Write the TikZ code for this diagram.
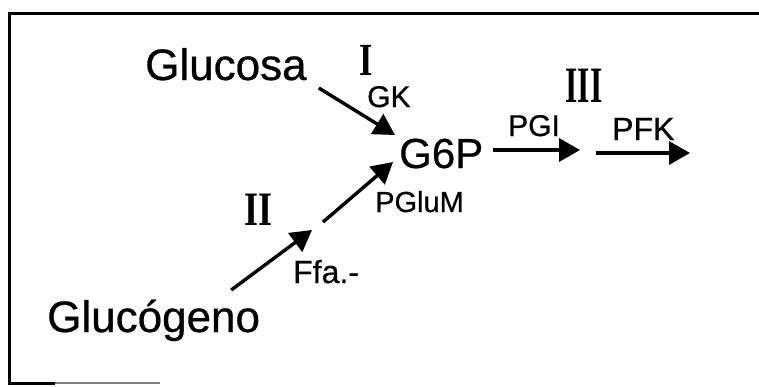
\documentclass[tikz,border=0pt]{standalone}
\usepackage{fontspec}
\setmainfont{Liberation Sans}
\newfontfamily\lblfont{Liberation Sans}[FakeBold=0.6]
\newfontfamily\romfont{Liberation Serif}
\usetikzlibrary{arrows.meta}
\tikzset{
  lbl/.style={inner sep=0pt, anchor=base west, font=\lblfont\fontsize{#1}{#1}\selectfont},
  num/.style={inner sep=0pt, anchor=base, font=\romfont\bfseries\fontsize{#1}{#1}\selectfont},
  arr/.style={-{Triangle[length=21pt,width=23pt]}, line width=3.4pt},
  frame/.style={line width=3pt}
}
\begin{document}
\begin{tikzpicture}[x=1pt,y=-1pt]
\useasboundingbox (0,0) rectangle (759,386);
% frame
\draw[frame] (8,13) -- (759,13);
\draw[frame] (9,13) -- (9,383) -- (55,383);
\draw[line width=1.6pt, gray] (55,383) -- (160,383);
% nodes
\node[lbl=44] (glucosa) at (145,80) {Glucosa};
\node[lbl=44] (glucogeno) at (47,332) {Glucógeno};
\node[lbl=42] (g6p) at (399,168) {G6P};
\node[lbl=30] (gk) at (367,107) {GK};
\node[lbl=29] (pglum) at (375,212) {PGluM};
\node[lbl=32] (ffa) at (293,283) {Ffa.-};
\node[lbl=30] (pgi) at (508,136) {PGI};
\node[lbl=32] (pfk) at (612,140) {PFK};
\node[num=46] (n1) at (366,75) {\scalebox{0.75}[1]{I}};
\node[num=48] (n2) at (259,225) {\scalebox{0.75}[1]{II}};
\node[num=51] (n3) at (584,102) {\scalebox{0.62}[1]{III}};
% free ends
\coordinate (m2) at (317.5,226);
\coordinate (m3) at (580,150);
\coordinate (m4) at (596,153);
\coordinate (e4) at (690,153);
% connectors
\draw[arr] ([shift={(12,8)}]glucosa.base east) -- ([shift={(-4,-33)}]g6p.base west);
\draw[arr] ([shift={(-29,-42)}]glucogeno.base east) -- ([shift={(-5.5,4)}]m2);
\draw[arr] ([shift={(5.5,-4)}]m2) -- ([shift={(-6,-6)}]g6p.base west);
\draw[arr] ([shift={(10,-18)}]g6p.base east) -- (m3);
\draw[arr] (m4) -- (e4);
\end{tikzpicture}
\end{document}
